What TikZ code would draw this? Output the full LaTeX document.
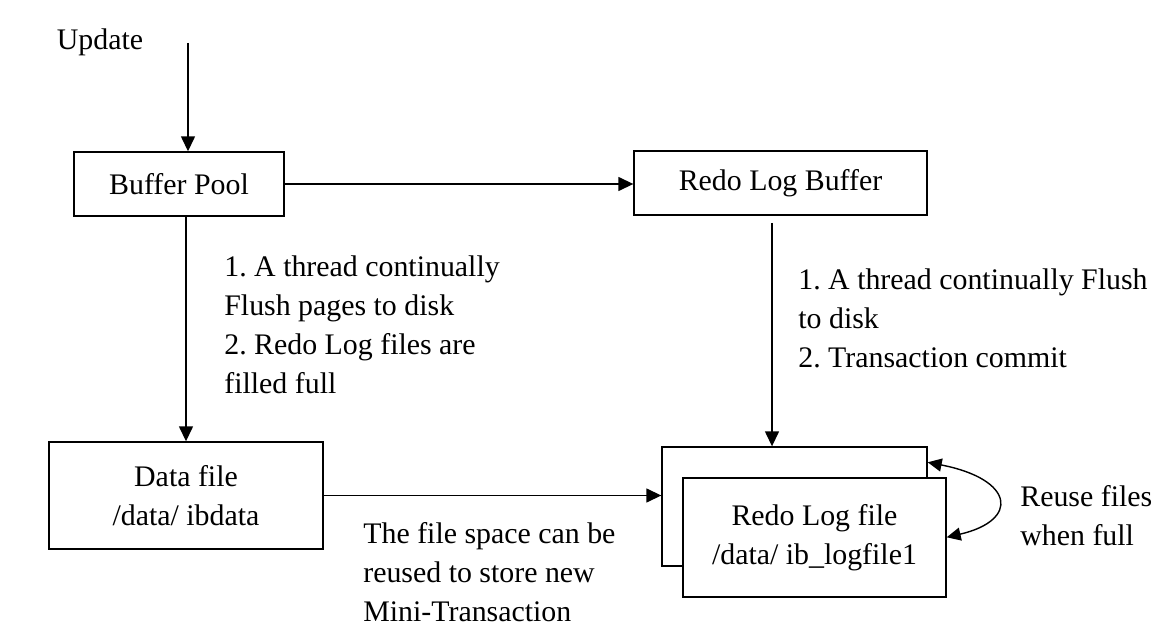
\documentclass[tikz,border=0pt]{standalone}
\usepackage{fontspec}
\setmainfont{Liberation Serif}
\usetikzlibrary{arrows.meta}
\frenchspacing

\tikzset{
    box/.style={draw, line width=0.8pt, fill=white, inner sep=0pt, align=center},
    flow/.style={line width=0.8pt, -{Triangle[length=0.3cm, width=0.28cm]}},
    remark/.style={anchor=north west, align=left, inner sep=0pt},
}

\begin{document}
\begin{tikzpicture}[x=0.02cm, y=-0.02cm, font=\fontsize{17}{22.2}\selectfont]
        \useasboundingbox (0,0) rectangle (1176,628);

        \node (update) at (100,42) {Update};
        \node[box, minimum width=4.2cm, minimum height=1.28cm] (bp) at (179,184) {Buffer Pool};
        \node[box, minimum width=5.86cm, minimum height=1.28cm] (rlb) at (780.5,183) {Redo Log Buffer};
        \node[box, minimum width=5.48cm, minimum height=2.14cm] (df) at (186,495.5) {Data file\\/data/ ibdata};
        \node[box, minimum width=5.3cm, minimum height=2.38cm] (lfback) at (794.5,506.5) {};
        \node[box, minimum width=5.26cm, minimum height=2.38cm] (lf) at (814.5,537.5) {Redo Log file\\/data/ ib\_logfile1};

        \coordinate (updtop) at (188,43);
        \coordinate (flushtop) at (772,223);

        \draw[flow] (updtop) -- (updtop |- bp.north);
        \draw[flow] (bp.east) -- (bp.east -| rlb.west);
        \draw[flow] (df.north |- bp.south) -- (df.north);
        \draw[flow] (flushtop) -- (flushtop |- lfback.north);
        \draw[flow] (df.east) -- (df.east -| lfback.west);
        \draw[line width=0.8pt, {Triangle[length=0.28cm, width=0.26cm]}-{Triangle[length=0.28cm, width=0.26cm]}] ([yshift=-0.32cm]lfback.north east) .. controls +(87,17) and +(73,-17) .. ([yshift=-1.2cm]lf.north east);

        \node[remark] (bpnote) at (224,255) {1. A thread continually\\Flush pages to disk\\2. Redo Log files are\\filled full};
        \node[remark] (rlbnote) at (798,268) {1. A thread continually Flush\\to disk\\2. Transaction commit};
        \node[remark] (dfnote) at (363,522) {The file space can be\\reused to store new\\Mini-Transaction};
        \node[remark] (reuse) at (1020,485) {Reuse files\\when full};
    \end{tikzpicture}
\end{document}
